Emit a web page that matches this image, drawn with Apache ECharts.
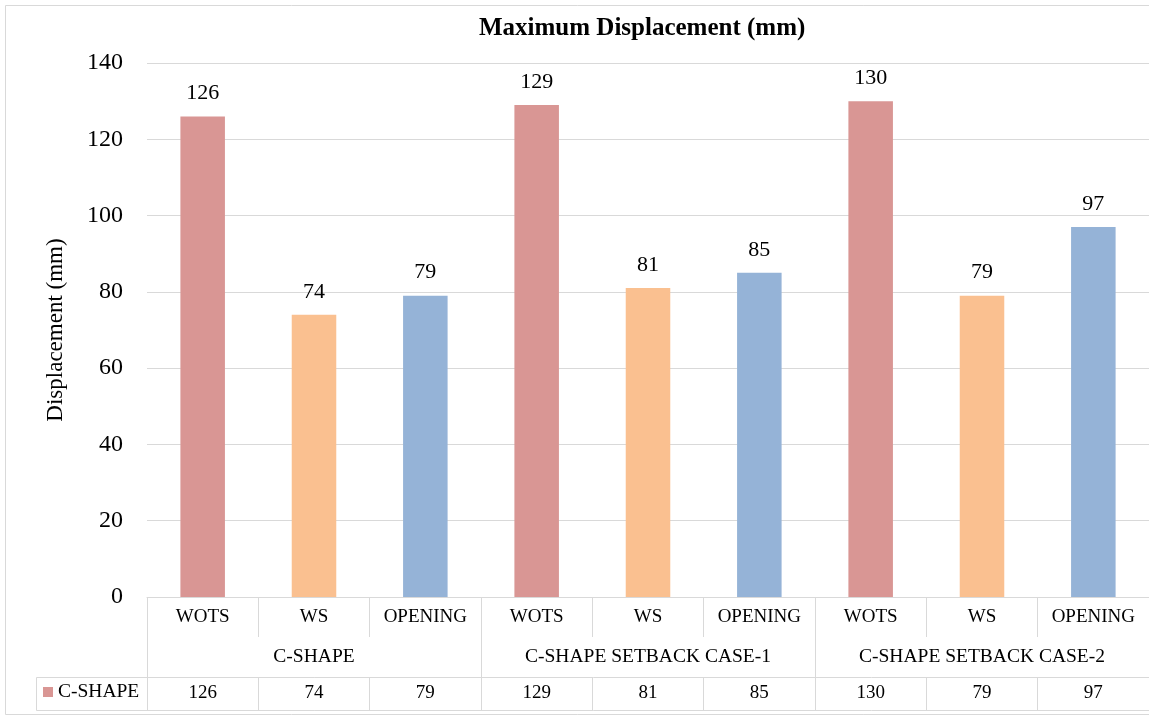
<!DOCTYPE html>
<html>
<head>
<meta charset="utf-8">
<title>Maximum Displacement (mm)</title>
<script src="https://cdn.jsdelivr.net/npm/echarts@6/dist/echarts.min.js"></script>
<style>
  html, body { margin: 0; padding: 0; background: #fff; }
  #chart { width: 1149px; height: 717px; }
</style>
</head>
<body>
<div id="chart"></div>
<script>
// Bar categories (inner level) and their groups (outer level)
const subCategories = ['WOTS', 'WS', 'OPENING', 'WOTS', 'WS', 'OPENING', 'WOTS', 'WS', 'OPENING'];
const groups = ['C-SHAPE', 'C-SHAPE SETBACK CASE-1', 'C-SHAPE SETBACK CASE-2'];
const seriesName = 'C-SHAPE';
// Maximum displacement values (mm)
const displacement = [126, 74, 79, 129, 81, 85, 130, 79, 97];
// Y-axis scale
const yMin = 0, yMax = 140, yStep = 20;
// Fill per bar type
const typeColors = { WOTS: '#D99694', WS: '#FAC090', OPENING: '#95B3D7' };

const FONT = '"Liberation Serif", "Times New Roman", serif';
const GRID_LINE = '#D9D9D9';

const chart = echarts.init(document.getElementById('chart'), null, { renderer: 'canvas' });

const gridLeft = 147, gridTop = 63, gridWidth = 1008, gridHeight = 534;

chart.setOption({
  backgroundColor: '#ffffff',
  animation: false,
  title: {
    text: 'Maximum Displacement (mm)',
    left: 479,
    top: 16,
    padding: 0,
    textStyle: { fontFamily: FONT, fontWeight: 'bold', fontSize: 25, color: '#000' }
  },
  legend: {
    data: [seriesName],
    left: 43,
    top: 682,
    padding: 0,
    itemWidth: 10,
    itemHeight: 10,
    icon: 'rect',
    textStyle: { fontFamily: FONT, fontSize: 19.5, color: '#000' }
  },
  grid: { left: gridLeft, top: gridTop, width: gridWidth, height: gridHeight, containLabel: false },
  xAxis: [
    {
      type: 'category',
      data: subCategories,
      position: 'bottom',
      axisLine: { show: true, lineStyle: { color: GRID_LINE, width: 1 } },
      axisTick: { show: true, interval: 0, length: 40, lineStyle: { color: GRID_LINE, width: 1 } },
      axisLabel: { interval: 0, margin: 11, fontFamily: FONT, fontSize: 19, color: '#000' }
    },
    {
      type: 'category',
      data: groups,
      position: 'bottom',
      offset: 40,
      axisLine: { show: false },
      axisTick: { show: true, interval: 0, length: 40, lineStyle: { color: GRID_LINE, width: 1 } },
      axisLabel: { interval: 0, margin: 10, fontFamily: FONT, fontSize: 19.5, color: '#000' }
    },
    {
      type: 'category',
      data: displacement.map(v => String(v)),
      position: 'bottom',
      offset: 80,
      axisLine: { show: false },
      axisTick: { show: true, interval: 0, length: 34, lineStyle: { color: GRID_LINE, width: 1 } },
      axisLabel: { interval: 0, margin: 7, fontFamily: FONT, fontSize: 19, color: '#000' }
    }
  ],
  yAxis: {
    type: 'value',
    min: yMin,
    max: yMax,
    interval: yStep,
    name: 'Displacement (mm)',
    nameLocation: 'middle',
    nameGap: 80,
    nameTextStyle: { fontFamily: FONT, fontSize: 23, color: '#000' },
    axisLine: { show: false },
    axisTick: { show: false },
    splitLine: { show: true, lineStyle: { color: GRID_LINE, width: 1 } },
    axisLabel: { margin: 24, fontFamily: FONT, fontSize: 24, color: '#000' }
  },
  series: [
    {
      name: seriesName,
      type: 'bar',
      xAxisIndex: 0,
      barWidth: '40%',
      itemStyle: { color: typeColors.WOTS },
      data: displacement.map((v, i) => ({ value: v, itemStyle: { color: typeColors[subCategories[i]] } })),
      label: {
        show: true,
        position: 'top',
        distance: 12,
        fontFamily: FONT,
        fontSize: 22,
        color: '#000'
      }
    }
  ],
  graphic: [
    // outer chart frame
    {
      type: 'rect',
      silent: true,
      shape: { x: 5.5, y: 5.5, width: 1160, height: 709 },
      style: { fill: null, stroke: GRID_LINE, lineWidth: 1 }
    },
    // data-table value row (with legend key cell)
    {
      type: 'rect',
      silent: true,
      shape: { x: 36.5, y: 677.5, width: 1130, height: 33 },
      style: { fill: null, stroke: GRID_LINE, lineWidth: 1 }
    }
  ]
});
</script>
</body>
</html>
